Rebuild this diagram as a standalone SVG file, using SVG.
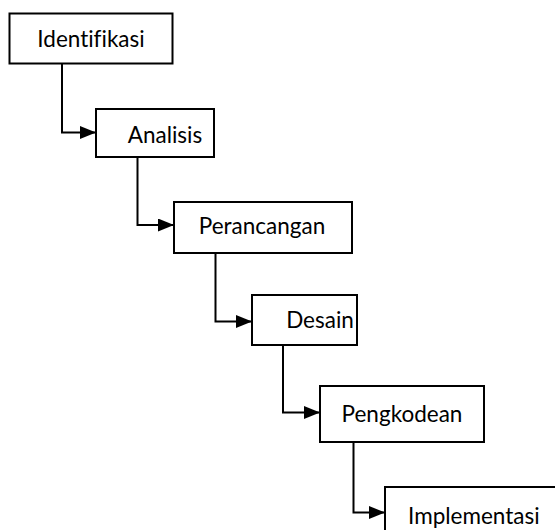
<svg xmlns="http://www.w3.org/2000/svg" width="555" height="530" viewBox="0 0 555 530">
  <defs>
    <marker id="arrow" markerUnits="userSpaceOnUse" markerWidth="16" markerHeight="13" refX="16" refY="6.5" orient="auto">
      <path d="M0,0 L16,6.5 L0,13 z" fill="#000"/>
    </marker>
    <style>
      .box { fill: #fff; stroke: #000; stroke-width: 2; }
      .lbl { font-family: Lato, "Liberation Sans", sans-serif; font-size: 22.5px; fill: #000; font-variant-ligatures: none; font-feature-settings: "liga" 0; }
      .conn { fill: none; stroke: #000; stroke-width: 2; marker-end: url(#arrow); }
    </style>
  </defs>
  <rect width="555" height="530" fill="#fff"/>

  <g id="connectors">
    <path class="conn" d="M62,63 V132.5 H96"/>
    <path class="conn" d="M137.5,157 V225 H174"/>
    <path class="conn" d="M215.5,253 V321.5 H252"/>
    <path class="conn" d="M283,345 V412.5 H320"/>
    <path class="conn" d="M353.5,442 V512.5 H385"/>
  </g>

  <g id="identifikasi">
    <rect class="box" x="9.5" y="13.5" width="163" height="50"/>
    <text class="lbl" x="91" y="47" text-anchor="middle">Identifikasi</text>
  </g>
  <g id="analisis">
    <rect class="box" x="96" y="109" width="118" height="48"/>
    <text class="lbl" x="165" y="143" text-anchor="middle">Analisis</text>
  </g>
  <g id="perancangan">
    <rect class="box" x="174" y="202" width="178" height="51"/>
    <text class="lbl" x="262" y="234" text-anchor="middle">Perancangan</text>
  </g>
  <g id="desain">
    <rect class="box" x="252" y="295" width="105" height="50"/>
    <text class="lbl" x="320" y="328" text-anchor="middle">Desain</text>
  </g>
  <g id="pengkodean">
    <rect class="box" x="320" y="386" width="164" height="56"/>
    <text class="lbl" x="402" y="421.5" text-anchor="middle">Pengkodean</text>
  </g>
  <g id="implementasi">
    <rect class="box" x="385" y="487" width="200" height="80"/>
    <text class="lbl" x="408" y="524">Implementasi</text>
  </g>
</svg>
